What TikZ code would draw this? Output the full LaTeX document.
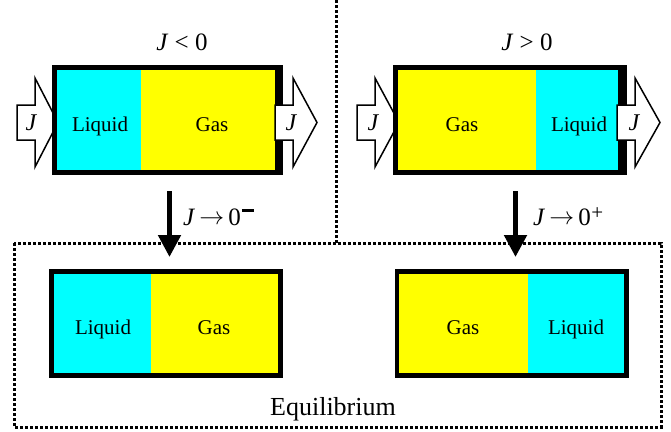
\documentclass[tikz,border=0pt]{standalone}
\usepackage{fontspec}
\setmainfont{Liberation Serif}
\usetikzlibrary{arrows.meta}
\definecolor{aqua}{RGB}{0,255,255}
\definecolor{yel}{RGB}{255,255,0}
\tikzset{
  region/.style={inner sep=0pt, outer sep=0pt, anchor=north west, draw=none},
  frame/.style={fill=black, draw=none},
  txt/.style={font=\fontsize{21}{24}\selectfont, inner sep=0pt, anchor=base},
  blockarrow/.style={draw=black, fill=white, line width=1.5pt, line join=miter},
  flux/.style={font=\fontsize{24}{28}\selectfont\itshape, inner sep=0pt},
  lbl/.style={font=\fontsize{25}{30}\selectfont, inner sep=0pt, anchor=base},
  dotline/.style={draw=black, line width=3pt, dash pattern=on 3pt off 2pt},
  downarrow/.style={line width=5pt, -{Triangle[width=22pt,length=22pt]}},
}
\newcommand{\flowto}{\,\raisebox{0.5pt}{$\rightarrow$}\,}
\newcommand{\supminus}{\kern1pt\raisebox{13.5pt}{\rule{12pt}{2.5pt}}}
\newcommand{\supplus}{\kern0.5pt\raisebox{5.5pt}{\fontsize{21}{24}\selectfont +}}
\begin{document}
\begin{tikzpicture}[x=1pt,y=-1pt]
\useasboundingbox (0,0) rectangle (671,431);

% dotted separators
\draw[dotline] (14,243) rectangle (661,427);
\coordinate (vtop) at (336,0);
\coordinate (vbot) at (336,243);
\draw[dotline] (vtop) -- (vbot);

% ---------- top-left box (J<0) ----------
\node[lbl] (t1) at (182,50) {\textit{J} < 0};
\draw[blockarrow] (17,105) -- (35,105) -- (35,78) -- (58,122.5) -- (35,167) -- (35,140) -- (17,140) -- cycle;
\node[flux] (j1) at (31,123) {J};
\fill[frame] (52,65) rectangle (283,175);
\node[region, fill=aqua, minimum width=84pt, minimum height=100pt] (a1) at (57,70) {};
\node[region, fill=yel, minimum width=134pt, minimum height=100pt] (a2) at (141,70) {};
\node[txt] (a1t) at (100,131) {Liquid};
\node[txt] (a2t) at (212,131) {Gas};
\draw[blockarrow] (275,105) -- (293,105) -- (293,78) -- (317,122.5) -- (293,167) -- (293,140) -- (275,140) -- cycle;
\node[flux] (j2) at (291,123) {J};

% ---------- top-right box (J>0) ----------
\node[lbl] (t2) at (527,50) {\textit{J} > 0};
\draw[blockarrow] (357,105) -- (375,105) -- (375,78) -- (399,122.5) -- (375,167) -- (375,140) -- (357,140) -- cycle;
\node[flux] (j3) at (373,123) {J};
\fill[frame] (393,65) rectangle (627,175);
\node[region, fill=yel, minimum width=138pt, minimum height=100pt] (b1) at (398,70) {};
\node[region, fill=aqua, minimum width=82pt, minimum height=100pt] (b2) at (536,70) {};
\node[txt] (b1t) at (462,131) {Gas};
\node[txt] (b2t) at (579,131) {Liquid};
\draw[blockarrow] (617,105) -- (635,105) -- (635,78) -- (660,122.5) -- (635,167) -- (635,140) -- (617,140) -- cycle;
\node[flux] (j4) at (634,123) {J};

% ---------- down arrows ----------
\coordinate (d1s) at (169.5,191);
\coordinate (d1e) at (169.5,257);
\draw[downarrow] (d1s) -- (d1e);
\node[lbl, anchor=base west] (l1) at (183,225) {\textit{J}\flowto0\supminus};
\coordinate (d2s) at (515.5,191);
\coordinate (d2e) at (515.5,257);
\draw[downarrow] (d2s) -- (d2e);
\node[lbl, anchor=base west] (l2) at (533,225) {\textit{J}\flowto0\supplus};

% ---------- bottom-left box ----------
\fill[frame] (49,269) rectangle (283,378);
\node[region, fill=aqua, minimum width=97pt, minimum height=99pt] (c1) at (54,274) {};
\node[region, fill=yel, minimum width=127pt, minimum height=99pt] (c2) at (151,274) {};
\node[txt] (c1t) at (103,334) {Liquid};
\node[txt] (c2t) at (214,334) {Gas};

% ---------- bottom-right box ----------
\fill[frame] (395,269) rectangle (629,378);
\node[region, fill=yel, minimum width=129pt, minimum height=99pt] (e1) at (399,274) {};
\node[region, fill=aqua, minimum width=96pt, minimum height=99pt] (e2) at (528,274) {};
\node[txt] (e1t) at (463,334) {Gas};
\node[txt] (e2t) at (576,334) {Liquid};

\node[lbl, font=\fontsize{26}{30}\selectfont] (eq) at (333,415) {Equilibrium};
\end{tikzpicture}
\end{document}
